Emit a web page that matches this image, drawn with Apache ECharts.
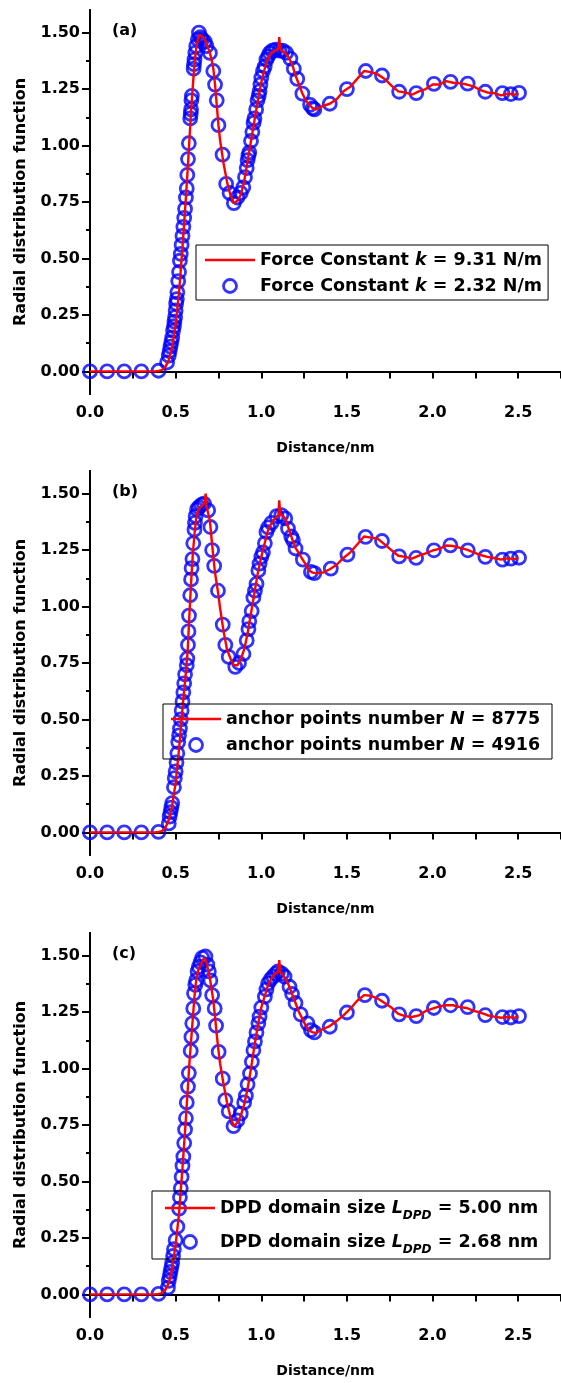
<!DOCTYPE html>
<html lang="en">
<head>
    <meta charset="UTF-8">
    <title>Radial distribution function</title>
    <script src="https://cdn.jsdelivr.net/npm/echarts@6/dist/echarts.min.js"></script>
    <style>
        body {margin: 0; background: #fff;}
        #main {width: 561px; height: 1383px;}
    </style>
</head>
<body>
<div id="main"></div>
<script>
    // distance (nm) for the red curves, shared by the three panels
    var lineX = [0, 0.1, 0.2, 0.3, 0.38, 0.40, 0.42, 0.44, 0.46, 0.48,
        0.50, 0.52, 0.54, 0.55, 0.56, 0.57, 0.58, 0.59, 0.60, 0.61,
        0.62, 0.63, 0.64, 0.66, 0.67, 0.675, 0.68, 0.70, 0.71, 0.72,
        0.73, 0.74, 0.75, 0.76, 0.78, 0.80, 0.82, 0.84, 0.86, 0.88,
        0.90, 0.92, 0.94, 0.96, 0.98, 1.00, 1.02, 1.04, 1.06, 1.08,
        1.10, 1.105, 1.11, 1.12, 1.14, 1.16, 1.18, 1.20, 1.22, 1.24,
        1.26, 1.28, 1.30,
        1.32, 1.36, 1.40, 1.44, 1.48, 1.52, 1.56, 1.60, 1.64, 1.68,
        1.72, 1.76, 1.80, 1.84, 1.88, 1.92, 1.96, 2.00, 2.04, 2.08,
        2.12, 2.16, 2.20, 2.24, 2.28, 2.32, 2.36, 2.40, 2.44, 2.48, 2.50];

    var lineA = [0, 0, 0, 0, 0, 0.002, 0.006, 0.02, 0.05, 0.11,
        0.21, 0.35, 0.55, 0.66, 0.77, 0.89, 1.02, 1.15, 1.26, 1.36,
        1.43, 1.47, 1.49, 1.48, 1.47, 1.465, 1.45, 1.41, 1.38, 1.34,
        1.27, 1.18, 1.09, 1.02, 0.92, 0.84, 0.78, 0.745, 0.755, 0.78,
        0.84, 0.93, 1.02, 1.11, 1.2, 1.28, 1.34, 1.39, 1.41, 1.42,
        1.43, 1.48, 1.43, 1.42, 1.41, 1.39, 1.36, 1.31, 1.27, 1.23,
        1.2, 1.18, 1.165,
        1.16, 1.175, 1.185, 1.205, 1.24, 1.26, 1.295, 1.33, 1.325, 1.315,
        1.295, 1.265, 1.24, 1.235, 1.225, 1.24, 1.25, 1.27, 1.27, 1.285,
        1.278, 1.275, 1.27, 1.262, 1.245, 1.235, 1.232, 1.222, 1.23, 1.225, 1.232];

    var lineB = [0, 0, 0, 0, 0, 0.002, 0.006, 0.02, 0.055, 0.12,
        0.22, 0.37, 0.55, 0.63, 0.71, 0.8, 0.96, 1.1, 1.23, 1.32,
        1.39, 1.42, 1.44, 1.45, 1.46, 1.5, 1.445, 1.38, 1.3, 1.22,
        1.15, 1.1, 1.05, 0.99, 0.89, 0.81, 0.77, 0.74, 0.74, 0.765,
        0.81, 0.88, 0.97, 1.06, 1.15, 1.22, 1.28, 1.34, 1.37, 1.39,
        1.405, 1.47, 1.41, 1.405, 1.39, 1.345, 1.3, 1.26, 1.235, 1.21,
        1.185, 1.16, 1.15,
        1.148, 1.15, 1.165, 1.185, 1.215, 1.24, 1.275, 1.31, 1.305, 1.3,
        1.275, 1.25, 1.225, 1.22, 1.212, 1.225, 1.235, 1.248, 1.255, 1.27,
        1.268, 1.26, 1.252, 1.24, 1.228, 1.22, 1.215, 1.208, 1.213, 1.21, 1.216];

    var lineC = [0, 0, 0, 0, 0, 0.002, 0.006, 0.02, 0.05, 0.12,
        0.22, 0.36, 0.56, 0.67, 0.78, 0.9, 1.02, 1.12, 1.22, 1.32,
        1.39, 1.43, 1.45, 1.48, 1.49, 1.49, 1.47, 1.4, 1.35, 1.3,
        1.23, 1.15, 1.08, 1.02, 0.93, 0.85, 0.785, 0.745, 0.76, 0.79,
        0.84, 0.91, 1.0, 1.1, 1.19, 1.27, 1.32, 1.37, 1.4, 1.42,
        1.43, 1.48, 1.43, 1.42, 1.4, 1.37, 1.33, 1.29, 1.25, 1.22,
        1.19, 1.17, 1.16,
        1.158, 1.175, 1.188, 1.21, 1.235, 1.265, 1.3, 1.325, 1.322, 1.31,
        1.29, 1.27, 1.242, 1.232, 1.228, 1.235, 1.255, 1.265, 1.275, 1.28,
        1.28, 1.272, 1.268, 1.255, 1.248, 1.236, 1.23, 1.225, 1.228, 1.224, 1.232];

    // blue circles [distance, g(r)]
    var circA = [[0, 0], [0.1, 0], [0.2, 0], [0.3, 0], [0.4, 0.003],
        [0.45, 0.04], [0.46, 0.07], [0.465, 0.09], [0.47, 0.11], [0.475, 0.13], [0.48, 0.15],
        [0.485, 0.18], [0.49, 0.2], [0.493, 0.22], [0.497, 0.24], [0.5, 0.27], [0.503, 0.3],
        [0.507, 0.32], [0.51, 0.35], [0.515, 0.4], [0.52, 0.44], [0.525, 0.49], [0.53, 0.52],
        [0.535, 0.56], [0.54, 0.6], [0.545, 0.64], [0.55, 0.68], [0.555, 0.72], [0.56, 0.77],
        [0.565, 0.81], [0.568, 0.87], [0.572, 0.94], [0.577, 1.01], [0.585, 1.12], [0.588, 1.14],
        [0.59, 1.16], [0.592, 1.2], [0.595, 1.22], [0.605, 1.34], [0.607, 1.36], [0.61, 1.38],
        [0.615, 1.41], [0.62, 1.44], [0.63, 1.47], [0.636, 1.5], [0.645, 1.48], [0.655, 1.47],
        [0.67, 1.46], [0.68, 1.44], [0.7, 1.41], [0.72, 1.33], [0.73, 1.27], [0.74, 1.2],
        [0.75, 1.09], [0.774, 0.96], [0.795, 0.83], [0.815, 0.79], [0.84, 0.745], [0.86, 0.77],
        [0.88, 0.79], [0.895, 0.815], [0.905, 0.86], [0.915, 0.9], [0.92, 0.935], [0.925, 0.955],
        [0.93, 0.97], [0.94, 1.02], [0.948, 1.06], [0.955, 1.1], [0.96, 1.12], [0.97, 1.16],
        [0.978, 1.2], [0.985, 1.22], [0.99, 1.24], [0.995, 1.27], [1.0, 1.3], [1.01, 1.33],
        [1.02, 1.35], [1.03, 1.38], [1.04, 1.395], [1.05, 1.41], [1.065, 1.42], [1.085, 1.425],
        [1.105, 1.42], [1.125, 1.42], [1.145, 1.41], [1.17, 1.385], [1.19, 1.34], [1.21, 1.295],
        [1.24, 1.23], [1.285, 1.18], [1.3, 1.165], [1.31, 1.16], [1.4, 1.185], [1.5, 1.25],
        [1.61, 1.33], [1.705, 1.31], [1.805, 1.238], [1.905, 1.232], [2.008, 1.273], [2.105, 1.282],
        [2.205, 1.274], [2.308, 1.238], [2.408, 1.232], [2.457, 1.228], [2.505, 1.233]];

    var circB = [[0, 0], [0.1, 0], [0.2, 0], [0.3, 0], [0.4, 0.002],
        [0.46, 0.04], [0.465, 0.07], [0.47, 0.09], [0.475, 0.11], [0.48, 0.13], [0.49, 0.2],
        [0.495, 0.24], [0.5, 0.27], [0.505, 0.31], [0.51, 0.35], [0.515, 0.4], [0.52, 0.43],
        [0.525, 0.46], [0.53, 0.5], [0.535, 0.54], [0.54, 0.58], [0.545, 0.62], [0.55, 0.66],
        [0.555, 0.7], [0.565, 0.74], [0.568, 0.77], [0.572, 0.83], [0.575, 0.89], [0.578, 0.96],
        [0.585, 1.05], [0.59, 1.12], [0.593, 1.17], [0.598, 1.21], [0.603, 1.28], [0.61, 1.34],
        [0.613, 1.37], [0.617, 1.4], [0.625, 1.43], [0.636, 1.44], [0.65, 1.45], [0.665, 1.456],
        [0.69, 1.426], [0.703, 1.352], [0.713, 1.25], [0.725, 1.18], [0.747, 1.07], [0.775, 0.92],
        [0.79, 0.83], [0.81, 0.777], [0.848, 0.733], [0.87, 0.75], [0.896, 0.79], [0.915, 0.85],
        [0.925, 0.9], [0.93, 0.935], [0.944, 0.98], [0.954, 1.04], [0.963, 1.07], [0.972, 1.1],
        [0.983, 1.16], [0.99, 1.19], [1.0, 1.22], [1.01, 1.24], [1.021, 1.28], [1.03, 1.33],
        [1.04, 1.35], [1.06, 1.37], [1.09, 1.4], [1.117, 1.405], [1.14, 1.39], [1.156, 1.345],
        [1.175, 1.31], [1.185, 1.293], [1.2, 1.257], [1.243, 1.208], [1.29, 1.153], [1.31, 1.148],
        [1.406, 1.168], [1.503, 1.23], [1.609, 1.308], [1.705, 1.29], [1.805, 1.222], [1.904, 1.215],
        [2.008, 1.249], [2.104, 1.271], [2.206, 1.249], [2.308, 1.22], [2.408, 1.208], [2.457, 1.212],
        [2.505, 1.216]];

    var circC = [[0, 0], [0.1, 0], [0.2, 0], [0.3, 0], [0.4, 0.002],
        [0.455, 0.03], [0.46, 0.06], [0.465, 0.08], [0.47, 0.1], [0.475, 0.12], [0.48, 0.14],
        [0.485, 0.17], [0.49, 0.2], [0.5, 0.24], [0.51, 0.3], [0.52, 0.38], [0.525, 0.43],
        [0.53, 0.47], [0.535, 0.52], [0.54, 0.57], [0.545, 0.61], [0.55, 0.67], [0.555, 0.73],
        [0.56, 0.78], [0.565, 0.85], [0.572, 0.92], [0.577, 0.98], [0.588, 1.078], [0.592, 1.14],
        [0.597, 1.2], [0.603, 1.266], [0.607, 1.333], [0.615, 1.37], [0.62, 1.39], [0.628, 1.43],
        [0.636, 1.45], [0.645, 1.47], [0.655, 1.49], [0.674, 1.496], [0.685, 1.46], [0.694, 1.43],
        [0.703, 1.39], [0.713, 1.325], [0.728, 1.266], [0.736, 1.19], [0.751, 1.074], [0.775, 0.955],
        [0.79, 0.86], [0.81, 0.81], [0.838, 0.745], [0.86, 0.77], [0.88, 0.8], [0.9, 0.85],
        [0.91, 0.88], [0.92, 0.93], [0.934, 0.978], [0.945, 1.03], [0.954, 1.081], [0.963, 1.12],
        [0.972, 1.16], [0.983, 1.2], [0.99, 1.23], [1.0, 1.27], [1.021, 1.318], [1.03, 1.35],
        [1.04, 1.377], [1.055, 1.395], [1.069, 1.407], [1.085, 1.42], [1.098, 1.43], [1.12, 1.42],
        [1.136, 1.407], [1.165, 1.362], [1.18, 1.33], [1.2, 1.29], [1.23, 1.24], [1.27, 1.2],
        [1.29, 1.17], [1.31, 1.16], [1.4, 1.185], [1.5, 1.248], [1.605, 1.325], [1.705, 1.3],
        [1.805, 1.24], [1.905, 1.232], [2.008, 1.268], [2.105, 1.28], [2.205, 1.272], [2.308, 1.236],
        [2.408, 1.228], [2.457, 1.226], [2.505, 1.232]];

    var xLabelValues = [0, 0.5, 1, 1.5, 2, 2.5];
    var yMajor = [0, 0.25, 0.5, 0.75, 1, 1.25, 1.5];
    var yMinor = [0.125, 0.375, 0.625, 0.875, 1.125, 1.375];

    var namesA = ['Force Constant k = 9.31 N/m', 'Force Constant k = 2.32 N/m'];
    var namesB = ['anchor points number N = 8775', 'anchor points number N = 4916'];
    var namesC = ['DPD domain size LDPD = 5.00 nm', 'DPD domain size LDPD = 2.68 nm'];
    var richText = {};
    richText[namesA[0]] = '{n|Force Constant }{i|k}{n| = 9.31 N/m}';
    richText[namesA[1]] = '{n|Force Constant }{i|k}{n| = 2.32 N/m}';
    richText[namesB[0]] = '{n|anchor points number }{i|N}{n| = 8775}';
    richText[namesB[1]] = '{n|anchor points number }{i|N}{n| = 4916}';
    richText[namesC[0]] = '{n|DPD domain size }{i|L}{s|DPD}{n| = 5.00 nm}';
    richText[namesC[1]] = '{n|DPD domain size }{i|L}{s|DPD}{n| = 2.68 nm}';

    var FONT = '"DejaVu Sans", sans-serif';
    // plain red bar for the legend; the two empty moves pin the box to itemWidth x itemHeight
    var LINE_ICON = 'path://M0,0 L0,0 M0,5.3 L50,5.3 L50,7.7 L0,7.7 Z M50,13 L50,13';

    var panels = [
        {top: 10, tag: '(a)', line: lineA, circ: circA, names: namesA,
            lg: {left: 196, top: 245, width: 281, lh: 20, gap: 6, pad: [5, 6, 4, 9], textGap: 7}},
        {top: 471, tag: '(b)', line: lineB, circ: circB, names: namesB,
            lg: {left: 163, top: 704, width: 320, lh: 20, gap: 6, pad: [5, 6, 4, 8], textGap: 10}},
        {top: 933, tag: '(c)', line: lineC, circ: circC, names: namesC,
            lg: {left: 152, top: 1191, width: 322, lh: 28, gap: 6, pad: [3, 8, 3, 13], textGap: 11}}
    ];

    function pairs(xs, ys) {
        return xs.map(function (x, i) {
            return [x, ys[i]];
        });
    }

    var black = {color: '#000', width: 2};
    var grid = [], xAxis = [], yAxis = [], series = [], legend = [], graphic = [];

    panels.forEach(function (p, k) {
        var box = {left: 90, top: p.top, width: 476, height: 384};
        grid.push(box);
        grid.push({left: box.left, top: box.top, width: box.width, height: box.height});
        var g = 2 * k;

        xAxis.push({
            gridIndex: g, type: 'value', position: 'bottom', min: 0, max: 2.75, interval: 0.25,
            name: 'Distance/nm', nameLocation: 'middle', nameGap: 47,
            nameTextStyle: {fontFamily: FONT, fontWeight: 'bold', fontSize: 14, color: '#000'},
            axisLine: {lineStyle: black},
            axisTick: {inside: false, length: 7, lineStyle: black},
            axisLabel: {customValues: xLabelValues, margin: 11, fontFamily: FONT, fontWeight: 'bold',
                fontSize: 16, color: '#000', formatter: function (v) { return v.toFixed(1); }},
            splitLine: {show: false}
        });
        xAxis.push({
            gridIndex: g, type: 'value', position: 'top', min: 0, max: 2.75, interval: 0.25,
            axisLine: {lineStyle: black},
            axisTick: {inside: true, length: 5, lineStyle: black},
            axisLabel: {show: false}, splitLine: {show: false}
        });
        xAxis.push({gridIndex: g + 1, type: 'value', min: 0, max: 2.75, show: false});

        yAxis.push({
            gridIndex: g, type: 'value', position: 'left', min: -0.1, max: 1.6,
            name: 'Radial distribution function', nameLocation: 'middle', nameGap: 61,
            nameTextStyle: {fontFamily: FONT, fontWeight: 'bold', fontSize: 16, color: '#000'},
            axisLine: {lineStyle: black},
            axisTick: {inside: false, length: 8, customValues: yMajor, lineStyle: black},
            axisLabel: {customValues: yMajor, margin: 10, fontFamily: FONT, fontWeight: 'bold',
                fontSize: 16, color: '#000', formatter: function (v) { return v.toFixed(2); }},
            splitLine: {show: false}
        });
        yAxis.push({
            gridIndex: g, type: 'value', position: 'right', min: -0.1, max: 1.6,
            axisLine: {lineStyle: black},
            axisTick: {inside: true, length: 7, customValues: yMajor, lineStyle: black},
            axisLabel: {show: false}, splitLine: {show: false}
        });
        yAxis.push({
            gridIndex: g + 1, type: 'value', position: 'left', min: -0.1, max: 1.6,
            axisLine: {show: false},
            axisTick: {show: true, inside: false, length: 4, customValues: yMinor, lineStyle: black},
            axisLabel: {show: false}, splitLine: {show: false}
        });

        series.push({
            name: p.names[1], type: 'scatter', xAxisIndex: 3 * k, yAxisIndex: 3 * k,
            data: p.circ, symbol: 'circle', symbolSize: 13, clip: false, z: 2,
            itemStyle: {color: 'rgba(0,0,0,0)', borderColor: '#0000ff', borderWidth: 2.8}
        });
        series.push({
            name: p.names[0], type: 'line', xAxisIndex: 3 * k, yAxisIndex: 3 * k,
            data: pairs(lineX, p.line), symbol: 'none', z: 3,
            lineStyle: {color: '#ff0000', width: 2.4}, itemStyle: {color: '#ff0000'}
        });

        legend.push({
            orient: 'vertical', left: p.lg.left, top: p.lg.top,
            data: [
                {name: p.names[0], icon: LINE_ICON, itemStyle: {color: '#ff0000', borderWidth: 0}},
                {name: p.names[1], itemStyle: {borderWidth: 2.8}}
            ],
            itemWidth: 50, itemHeight: 13, itemGap: p.lg.gap, itemTextGap: p.lg.textGap,
            padding: p.lg.pad, borderColor: '#000', borderWidth: 1, borderRadius: 0,
            selectedMode: false,
            formatter: function (name) { return richText[name]; },
            textStyle: {
                width: p.lg.width, lineHeight: p.lg.lh, color: '#000',
                rich: {
                    n: {fontFamily: FONT, fontWeight: 'bold', fontSize: 17.5, color: '#000', lineHeight: p.lg.lh},
                    i: {fontFamily: FONT, fontWeight: 'bold', fontStyle: 'italic', fontSize: 17.5, color: '#000', lineHeight: p.lg.lh},
                    s: {fontFamily: FONT, fontWeight: 'bold', fontStyle: 'italic', fontSize: 12, color: '#000',
                        lineHeight: 12, verticalAlign: 'bottom'}
                }
            }
        });

        graphic.push({
            type: 'text', left: 112, top: p.top + 13,
            style: {text: p.tag, font: 'bold 16px ' + FONT, fill: '#000'}
        });
    });

    var myChart = echarts.init(document.getElementById('main'));
    myChart.setOption({
        animation: false,
        backgroundColor: '#fff',
        grid: grid,
        xAxis: xAxis,
        yAxis: yAxis,
        legend: legend,
        graphic: graphic,
        series: series
    });
</script>
</body>
</html>
